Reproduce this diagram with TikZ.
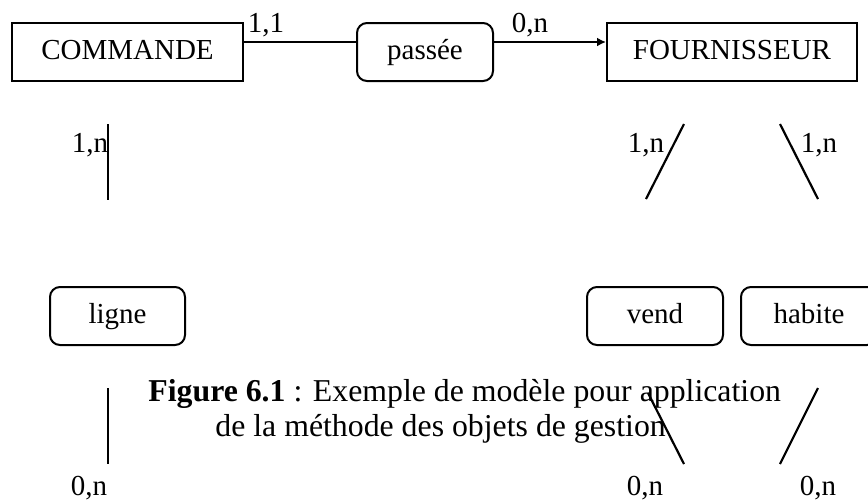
\documentclass[tikz,border=0pt]{standalone}
\usepackage{fontspec}
\setmainfont{Liberation Serif}
\usetikzlibrary{arrows.meta}
\begin{document}
\begin{tikzpicture}[x=0.5pt,y=-0.5pt,
  every node/.style={font=\fontsize{14.5pt}{17pt}\selectfont},
  entity/.style={draw,line width=1pt,rectangle,inner sep=0pt,minimum height=29pt,text height=0.75em,text depth=0pt},
  relation/.style={entity,rounded corners=5pt},
  lbl/.style={anchor=base,inner sep=0pt},
  caption/.style={lbl,anchor=base west,font=\fontsize{15.9pt}{18pt}\selectfont},
  conn/.style={line width=1.1pt},
  stub/.style={line width=1.1pt}]
\clip (0,0) rectangle (868,500);
\fill[white] (0,0) rectangle (868,500);
% top row
\node[entity,minimum width=115.5pt] (cmd) at (127.5,52) {COMMANDE};
\node[relation,minimum width=68pt] (pas) at (425,52) {passée};
\node[entity,minimum width=125pt] (four) at (732,52) {FOURNISSEUR};
\draw[conn] ([yshift=5pt]cmd.east) -- ([yshift=5pt]pas.west);
\draw[conn,-{Latex[length=4.5pt,width=4.5pt]}] ([yshift=5pt]pas.east) -- ([yshift=5pt]four.west);
\node[lbl] (c11) at (266,32) {1,1};
\node[lbl] (c0n) at (530,32) {0,n};
% middle row
\node[relation,minimum width=67.5pt] (ligne) at (117.5,316) {ligne};
\node[relation,minimum width=68pt] (vend) at (655,316) {vend};
\node[relation,minimum width=68pt] (habite) at (809,316) {habite};
% upper stubs
\coordinate (a1) at (108,124); \coordinate (a2) at (108,200);
\coordinate (b1) at (684,124); \coordinate (b2) at (646,199);
\coordinate (d1) at (780,124); \coordinate (d2) at (818,199);
\draw[stub] (a1) -- (a2);
\draw[stub] (b1) -- (b2);
\draw[stub] (d1) -- (d2);
\node[lbl] (l1) at (90,152) {1,n};
\node[lbl] (l2) at (646,152) {1,n};
\node[lbl] (l3) at (819,152) {1,n};
% caption
\node[caption] (cap1) at (148,401) {\textbf{Figure 6.1} : Exemple de modèle pour application};
\node[caption] (cap2) at (215,436) {de la méthode des objets de gestion};
% lower stubs
\coordinate (e1) at (108,388); \coordinate (e2) at (108,464);
\coordinate (f1) at (648,393); \coordinate (f2) at (684,464);
\coordinate (g1) at (818,388); \coordinate (g2) at (780,464);
\draw[stub] (e1) -- (e2);
\draw[stub] (f1) -- (f2);
\draw[stub] (g1) -- (g2);
\node[lbl] (m1) at (89,495) {0,n};
\node[lbl] (m2) at (645,495) {0,n};
\node[lbl] (m3) at (818,495) {0,n};
\end{tikzpicture}
\end{document}
